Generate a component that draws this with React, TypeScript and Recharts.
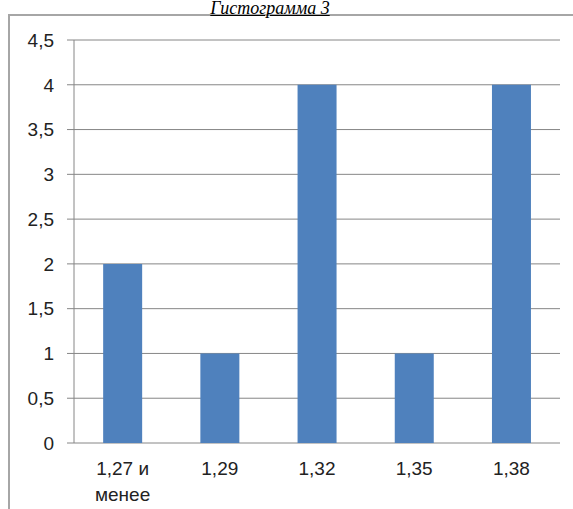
import { Bar, BarChart, CartesianGrid, Text, XAxis, YAxis } from "recharts";

const categories = ["1,27 и менее", "1,29", "1,32", "1,35", "1,38"];
const counts = [2, 1, 4, 1, 4];
const yTicks = [0, 0.5, 1, 1.5, 2, 2.5, 3, 3.5, 4, 4.5];
const edgeTicks = [0, 1, 2, 3, 4, 5];

const data = categories.map((name, i) => ({ name, value: counts[i] }));

const FONT = "'Liberation Sans', Arial, sans-serif";
const GRID = "#868686";

function CategoryTick(props: any) {
  const { x, y, payload } = props;
  return (
    <Text
      x={x}
      y={y}
      width={64}
      textAnchor="middle"
      verticalAnchor="start"
      lineHeight={26}
      fill="#222"
      style={{ fontFamily: FONT, fontSize: 19 }}
    >
      {payload.value}
    </Text>
  );
}

export default function App() {
  return (
    <div style={{ position: "fixed", left: 0, top: 0, width: 573, height: 509, background: "#fff", overflow: "hidden" }}>
      <div
        style={{
          position: "absolute",
          left: 8,
          top: 14,
          width: 600,
          height: 600,
          borderLeft: "2px solid #a6a6a6",
          borderTop: "2px solid #a6a6a6",
        }}
      />
      <div
        style={{
          position: "absolute",
          left: 0,
          width: 540,
          top: 0,
          textAlign: "center",
          fontFamily: "'Liberation Serif', 'Times New Roman', serif",
          fontStyle: "italic",
          fontSize: 18,
          lineHeight: "17px",
          textDecoration: "underline",
          color: "#000",
        }}
      >
        Гистограмма 3
      </div>
      <div style={{ position: "absolute", left: 0, top: 0 }}>
        <BarChart
          width={573}
          height={509}
          data={data}
          margin={{ top: 40, right: 13, bottom: 0, left: 0 }}
          barCategoryGap="30%"
        >
          <CartesianGrid stroke={GRID} vertical={false} />
          <XAxis
            xAxisId="edges"
            type="number"
            domain={[0, 5]}
            ticks={edgeTicks}
            tick={false}
            tickSize={6}
            height={0}
            stroke={GRID}
            axisLine={{ stroke: GRID }}
            tickLine={{ stroke: GRID }}
          />
          <XAxis
            xAxisId="cat"
            dataKey="name"
            height={66}
            axisLine={false}
            tickLine={false}
            tickSize={6}
            tickMargin={13}
            interval={0}
            tick={<CategoryTick />}
          />
          <YAxis
            width={74}
            domain={[0, 4.5]}
            ticks={yTicks}
            interval={0}
            tickSize={7}
            tickMargin={13}
            tickFormatter={(v: number) => String(v).replace(".", ",")}
            tick={{ fill: "#222", fontSize: 19, fontFamily: FONT }}
            axisLine={{ stroke: GRID }}
            tickLine={{ stroke: GRID }}
          />
          <Bar xAxisId="cat" dataKey="value" fill="#4F81BD" isAnimationActive={false} />
        </BarChart>
      </div>
    </div>
  );
}
